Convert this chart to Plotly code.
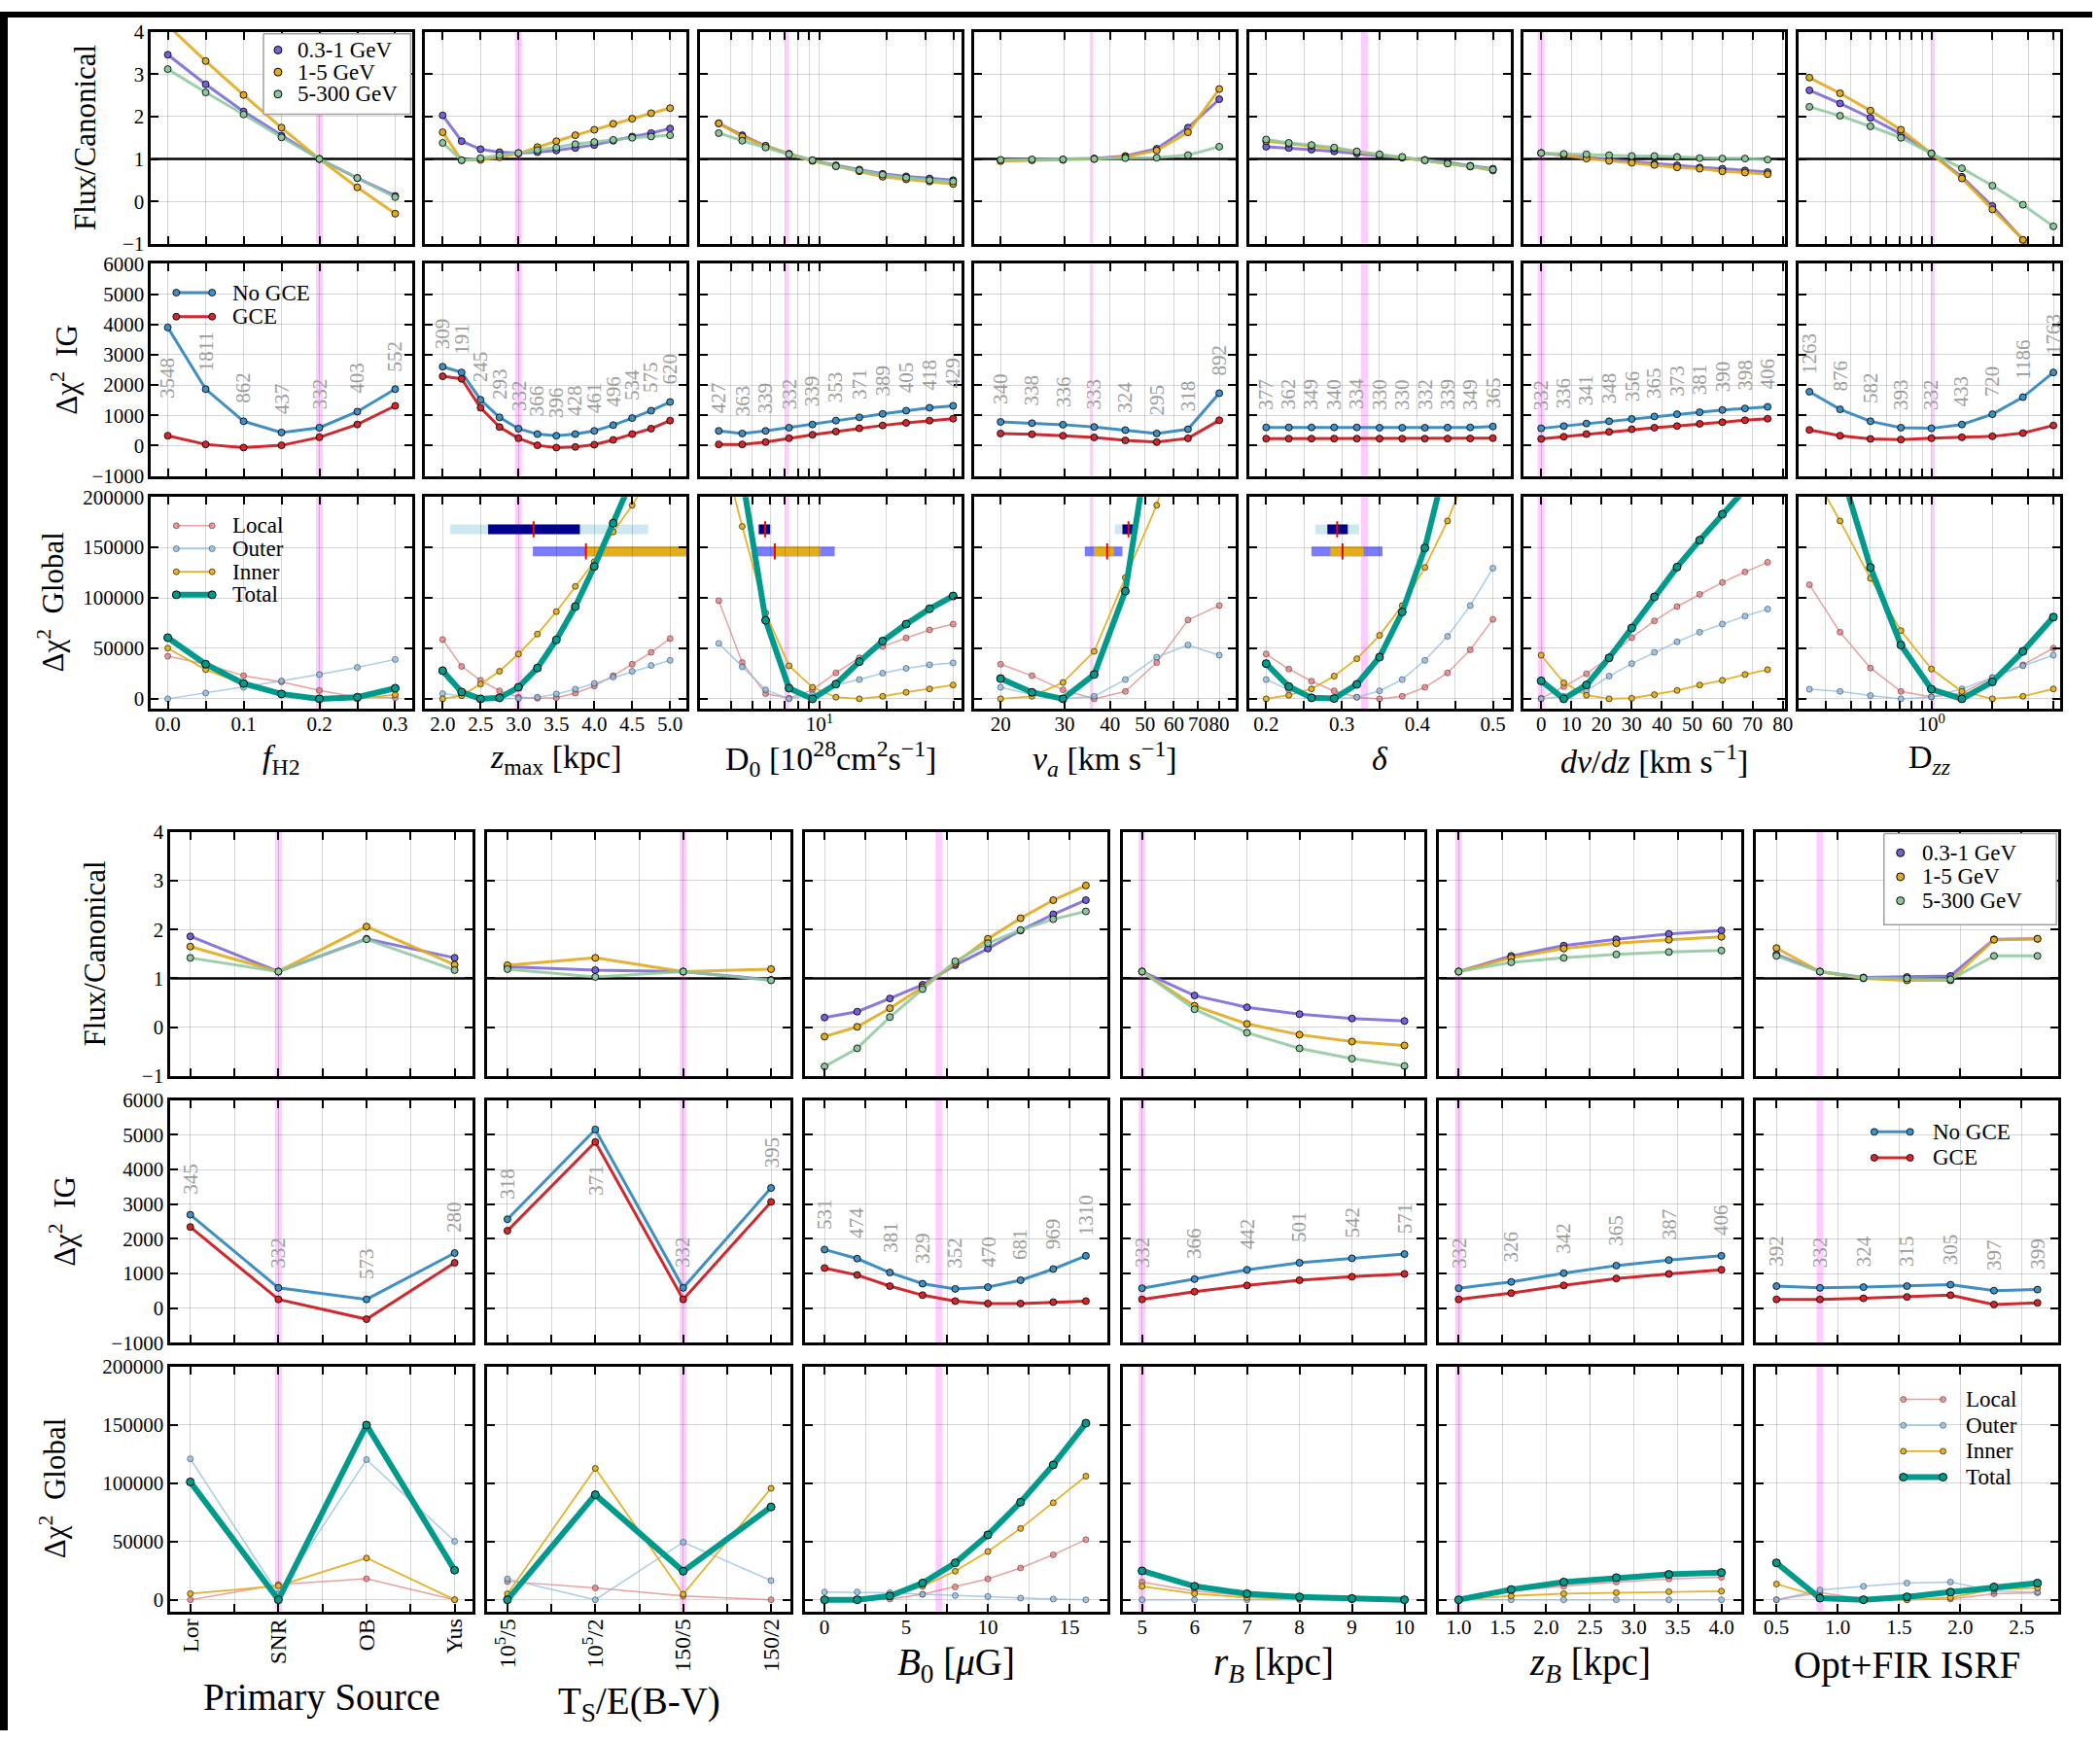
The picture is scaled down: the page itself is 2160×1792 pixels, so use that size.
import math
import plotly.graph_objects as go

W, H = 2160, 1792
FONT = "Liberation Serif"

# ----------------------------------------------------------------- DATA
# ---- top block ----
fh2_x = [0.0, 0.05, 0.1, 0.15, 0.2, 0.25, 0.3]
fh2_lo = [3.46, 2.76, 2.12, 1.55, 1.0, 0.55, 0.13]
fh2_mid = [4.15, 3.31, 2.51, 1.74, 1.0, 0.33, -0.29]
fh2_hi = [3.12, 2.57, 2.05, 1.51, 1.0, 0.55, 0.10]
fh2_nogce = [3900, 1864, 803, 432, 591, 1121, 1864]
fh2_gce = [326, 40, -66, 8, 273, 697, 1312]
fh2_lab = ["3548", "1811", "862", "437", "332", "403", "552"]
fh2_local = [42200, 34300, 22900, 16800, 8300, 1600, 1000]
fh2_outer = [0, 5700, 11400, 17800, 24100, 31100, 39000]
fh2_inner = [50200, 28900, 14600, 4800, 300, 0, 4100]
fh2_total = [60600, 34300, 15200, 4800, 0, 1600, 10500]

zmax_x = [2.0, 2.25, 2.5, 2.75, 3.0, 3.25, 3.5, 3.75, 4.0, 4.25, 4.5, 4.75, 5.0]
zmax_lo = [2.03, 1.42, 1.23, 1.16, 1.14, 1.16, 1.20, 1.26, 1.33, 1.43, 1.53, 1.61, 1.72]
zmax_mid = [1.63, 0.97, 0.98, 1.04, 1.13, 1.28, 1.42, 1.56, 1.69, 1.83, 1.95, 2.08, 2.20]
zmax_hi = [1.38, 0.97, 1.02, 1.09, 1.14, 1.21, 1.27, 1.35, 1.40, 1.45, 1.50, 1.53, 1.56]
zmax_nogce = [2606, 2415, 1514, 931, 559, 379, 326, 379, 485, 676, 909, 1153, 1440]
zmax_gce = [2288, 2203, 1249, 612, 241, 8, -66, -45, 29, 188, 379, 559, 825]
zmax_lab = ["309", "191", "245", "293", "332", "366", "396", "428", "461", "496", "534", "575", "620"]
zmax_local = [58700, 32100, 18400, 7900, 1600, 600, 1000, 5700, 12700, 22900, 34300, 46000, 59700]
zmax_outer = [5100, 3200, 600, 0, 300, 1600, 4800, 9500, 15200, 21600, 27300, 33000, 38100]
zmax_inner = [0, 3200, 14600, 27300, 44400, 64100, 86400, 111400, 135900, 165400, 191800, 222000, 252000]
zmax_total = [27900, 6700, 0, 1000, 11400, 30500, 58400, 91400, 131100, 174000, 215000, 260000, 305000]
zmax_bar1 = [2.10, 4.71, 2.60, 3.81, 3.20]   # wide lo, wide hi, core lo, core hi, best
zmax_bar2 = [3.19, 5.60, 3.89, 5.60, 3.89]

d0_x = [3.53, 4.50, 5.73, 7.3, 9.30, 11.85, 15.1, 19.2, 24.5, 31.2, 39.8]
d0_lo = [1.84, 1.56, 1.31, 1.12, 0.97, 0.85, 0.75, 0.65, 0.59, 0.54, 0.50]
d0_mid = [1.84, 1.53, 1.31, 1.12, 0.955, 0.83, 0.71, 0.58, 0.52, 0.47, 0.41]
d0_hi = [1.61, 1.43, 1.27, 1.11, 0.97, 0.83, 0.73, 0.63, 0.56, 0.50, 0.47]
d0_nogce = [485, 400, 485, 591, 697, 825, 931, 1047, 1153, 1249, 1312]
d0_gce = [40, 40, 114, 241, 358, 464, 570, 666, 750, 825, 888]
d0_lab = ["427", "363", "339", "332", "339", "353", "371", "389", "405", "418", "429"]
d0_local = [97200, 35900, 5100, 600, 8900, 25700, 40600, 51800, 60300, 68300, 74000]
d0_outer = [54900, 31800, 8900, 0, 4100, 13700, 19100, 25400, 30200, 33700, 35600]
d0_inner = [260000, 170800, 85100, 32700, 11400, 1600, 0, 2500, 6400, 9800, 13700]
d0_total = [420000, 220000, 77800, 10500, 0, 14600, 36800, 57200, 74000, 89200, 101900]
d0_bar1 = [5.27, 6.11, 5.34, 6.0, 5.70]
d0_bar2 = [5.05, 11.7, 6.3, 10.1, 6.3]

va_x = [20, 24.4, 29.7, 36.2, 44.1, 53.8, 65.6, 80]
va_lo = [0.97, 0.98, 0.985, 1.01, 1.07, 1.24, 1.74, 2.41]
va_mid = [0.95, 0.97, 0.98, 1.0, 1.05, 1.20, 1.63, 2.65]
va_hi = [0.98, 0.99, 0.99, 1.0, 1.02, 1.03, 1.09, 1.29]
va_nogce = [780, 740, 690, 615, 510, 400, 540, 1730]
va_gce = [400, 375, 325, 270, 170, 115, 240, 835]
va_lab = ["340", "338", "336", "333", "324", "295", "318", "892"]
va_local = [34300, 22900, 8900, 0, 7300, 35900, 78100, 92400]
va_outer = [11400, 4100, 0, 2500, 19100, 41300, 53300, 43200]
va_inner = [0, 2500, 16200, 47000, 120000, 191800, 300000, 420000]
va_total = [20000, 6400, 0, 24100, 106700, 260000, 480000, 700000]
va_bar1 = [41.3, 47.2, 43.3, 46.7, 45.0]
va_bar2 = [34.1, 43.3, 36.1, 41.0, 39.3]

dl_x = [0.2, 0.23, 0.26, 0.29, 0.32, 0.35, 0.38, 0.41, 0.44, 0.47, 0.5]
dl_lo = [1.29, 1.26, 1.22, 1.18, 1.13, 1.08, 1.03, 0.98, 0.92, 0.84, 0.77]
dl_mid = [1.42, 1.36, 1.31, 1.25, 1.17, 1.10, 1.04, 0.97, 0.90, 0.82, 0.73]
dl_hi = [1.46, 1.38, 1.33, 1.27, 1.18, 1.11, 1.05, 0.97, 0.89, 0.83, 0.75]
dl_nogce = [600, 600, 600, 600, 600, 590, 590, 590, 595, 600, 630]
dl_gce = [230, 230, 230, 230, 230, 230, 230, 230, 232, 235, 245]
dl_lab = ["377", "362", "349", "340", "334", "330", "330", "332", "339", "349", "365"]
dl_local = [44400, 29500, 17500, 7900, 1600, 0, 2500, 11400, 25700, 48600, 78700]
dl_outer = [19100, 8900, 1600, 0, 1600, 7900, 19100, 38100, 61900, 92400, 129500]
dl_inner = [0, 3500, 9800, 22500, 39700, 62900, 92400, 130200, 176200, 230000, 290000]
dl_total = [34900, 12100, 1000, 300, 14300, 41300, 86000, 149500, 240000, 330000, 420000]
dl_bar1 = [0.265, 0.323, 0.281, 0.308, 0.294]
dl_bar2 = [0.260, 0.354, 0.285, 0.329, 0.301]

dv_x = [0, 7.5, 15, 22.5, 30, 37.5, 45, 52.5, 60, 67.5, 75]
dv_lo = [1.14, 1.09, 1.03, 0.985, 0.94, 0.89, 0.85, 0.80, 0.77, 0.73, 0.69]
dv_mid = [1.14, 1.09, 1.01, 0.955, 0.91, 0.86, 0.80, 0.77, 0.71, 0.68, 0.64]
dv_hi = [1.14, 1.12, 1.11, 1.09, 1.07, 1.07, 1.05, 1.02, 1.01, 1.01, 0.985]
dv_nogce = [570, 644, 729, 803, 878, 962, 1036, 1100, 1174, 1227, 1280]
dv_gce = [220, 294, 379, 453, 538, 591, 644, 718, 771, 835, 888]
dv_lab = ["332", "336", "341", "348", "356", "365", "373", "381", "390", "398", "406"]
dv_local = [500, 12100, 24800, 41300, 60600, 77200, 91400, 103500, 115300, 125700, 135300]
dv_outer = [0, 2500, 7900, 22500, 34900, 46000, 56500, 66000, 74000, 81900, 88900]
dv_inner = [43200, 15900, 3500, 0, 600, 4100, 8300, 13700, 18400, 24100, 28900]
dv_total = [17800, 0, 13700, 40600, 70200, 101000, 130500, 157200, 182900, 208000, 233000]

dzz_x = [0.25, 0.354, 0.5, 0.707, 1.0, 1.414, 2.0, 2.83, 4.0]
dzz_lo = [2.62, 2.31, 1.97, 1.59, 1.13, 0.58, -0.11, -0.91, -1.7]
dzz_mid = [2.92, 2.55, 2.14, 1.69, 1.13, 0.54, -0.19, -0.91, -1.6]
dzz_hi = [2.23, 2.02, 1.77, 1.50, 1.13, 0.78, 0.37, -0.08, -0.59]
dzz_nogce = [1779, 1196, 803, 591, 570, 697, 1036, 1599, 2415]
dzz_gce = [517, 326, 220, 199, 241, 273, 305, 411, 666]
dzz_lab = ["1263", "876", "582", "393", "332", "433", "720", "1186", "1763"]
dzz_local = [113000, 66000, 30500, 7300, 1900, 5700, 21000, 33700, 50200]
dzz_outer = [9500, 7300, 3200, 0, 1900, 9800, 21000, 32700, 43200]
dzz_inner = [230000, 176200, 119400, 67600, 29500, 7300, 0, 2500, 9800]
dzz_total = [330000, 230000, 130200, 53300, 9500, 0, 16800, 47000, 81000]

# ---- bottom block ----
ps_x = [0, 1, 2, 3]
ps_cats = ["Lor", "SNR", "OB", "Yus"]
ps_lo = [1.86, 1.14, 1.81, 1.42]
ps_mid = [1.65, 1.14, 2.06, 1.28]
ps_hi = [1.42, 1.14, 1.80, 1.17]
ps_nogce = [2696, 587, 255, 1591]
ps_gce = [2344, 255, -317, 1310]
ps_lab = ["345", "332", "573", "280"]
ps_local = [0, 13000, 18000, 0]
ps_outer = [121000, 5000, 120300, 50200]
ps_inner = [5200, 12000, 35800, 0]
ps_total = [101200, 0, 150000, 25400]

ts_x = [0, 1, 2, 3]
ts_cats = ["10<sup>5</sup>/5", "10<sup>5</sup>/2", "150/5", "150/2"]
ts_lo = [1.24, 1.17, 1.14, 0.97]
ts_mid = [1.27, 1.42, 1.14, 1.19]
ts_hi = [1.19, 1.03, 1.14, 0.96]
ts_nogce = [2565, 5156, 587, 3469]
ts_gce = [2234, 4795, 255, 3067]
ts_lab = ["318", "371", "332", "395"]
ts_local = [15700, 10200, 3300, 0]
ts_outer = [17900, 0, 49400, 16500]
ts_inner = [5000, 112800, 4700, 95700]
ts_total = [0, 90200, 24500, 79700]

b0_x = [0, 2, 4, 6, 8, 10, 12, 14, 16]
b0_lo = [0.20, 0.32, 0.59, 0.87, 1.27, 1.61, 1.98, 2.31, 2.60]
b0_mid = [-0.19, 0.01, 0.39, 0.82, 1.31, 1.81, 2.23, 2.60, 2.90]
b0_hi = [-0.80, -0.43, 0.21, 0.78, 1.35, 1.72, 1.99, 2.21, 2.37]
b0_nogce = [1692, 1430, 1029, 707, 557, 607, 808, 1129, 1511]
b0_gce = [1159, 958, 637, 376, 205, 135, 135, 175, 205]
b0_lab = ["531", "474", "381", "329", "352", "470", "681", "969", "1310"]
b0_local = [0, 0, 600, 4700, 11000, 17900, 27300, 38600, 51600]
b0_outer = [6600, 6600, 6100, 4700, 3600, 2800, 1400, 600, 0]
b0_inner = [0, 0, 2800, 11600, 24500, 41400, 61200, 83300, 106100]
b0_total = [0, 0, 3300, 14300, 31700, 55700, 83800, 115800, 151600]

rb_x = [5, 6, 7, 8, 9, 10]
rb_lo = [1.14, 0.65, 0.41, 0.27, 0.18, 0.13]
rb_mid = [1.14, 0.44, 0.07, -0.15, -0.29, -0.37]
rb_hi = [1.14, 0.37, -0.11, -0.43, -0.64, -0.79]
rb_nogce = [577, 838, 1109, 1310, 1440, 1561]
rb_gce = [255, 476, 657, 808, 908, 989]
rb_lab = ["332", "366", "442", "501", "542", "571"]
rb_local = [15200, 7400, 3300, 1400, 600, 0]
rb_outer = [0, 0, 0, 0, 0, 0]
rb_inner = [11600, 5200, 1900, 600, 0, 0]
rb_total = [24800, 11600, 5200, 2500, 1100, 0]

zb_x = [1.0, 1.6, 2.2, 2.8, 3.4, 4.0]
zb_lo = [1.14, 1.46, 1.67, 1.80, 1.91, 1.98]
zb_mid = [1.14, 1.42, 1.61, 1.72, 1.79, 1.85]
zb_hi = [1.14, 1.33, 1.42, 1.49, 1.54, 1.57]
zb_nogce = [577, 758, 1009, 1230, 1390, 1511]
zb_gce = [255, 436, 657, 858, 989, 1109]
zb_lab = ["332", "326", "342", "365", "387", "406"]
zb_local = [0, 7400, 11600, 15200, 17900, 19300]
zb_outer = [0, 0, 0, 0, 0, 0]
zb_inner = [0, 3300, 5200, 6100, 6900, 7400]
zb_total = [0, 8800, 15200, 19000, 21800, 23400]

is_x = [0.5, 0.855, 1.21, 1.565, 1.92, 2.275, 2.63]
is_lo = [1.49, 1.14, 1.02, 1.03, 1.05, 1.80, 1.81]
is_mid = [1.62, 1.14, 1.0, 0.96, 0.96, 1.79, 1.81]
is_hi = [1.46, 1.14, 1.01, 1.0, 0.98, 1.46, 1.46]
is_nogce = [637, 587, 607, 637, 677, 507, 537]
is_gce = [255, 255, 285, 326, 376, 105, 155]
is_lab = ["392", "332", "324", "315", "305", "397", "399"]
is_local = [0, 6100, 600, 0, 600, 5200, 6100]
is_outer = [0, 8300, 11600, 14300, 15200, 7400, 6600]
is_inner = [13500, 2800, 0, 0, 1900, 8800, 10200]
is_total = [31700, 1400, 0, 2500, 6600, 11000, 14300]

flux_names = ["0.3-1 GeV", "1-5 GeV", "5-300 GeV"]
ig_names = ["No GCE", "GCE"]
gl_names = ["Local", "Outer", "Inner", "Total"]

# ----------------------------------------------------------------- STYLE
C_LO, C_MID, C_HI = "#7462d6", "#e2aa1e", "#8cc79c"
L_LO, L_MID, L_HI = "rgba(116,98,214,0.85)", "rgba(226,170,30,0.9)", "rgba(140,199,156,0.85)"
C_NOGCE, C_GCE = "#3f8fc5", "#d1282d"
C_LOCAL, C_OUTER, C_INNER, C_TOTAL = "rgba(222,120,120,0.7)", "rgba(140,185,222,0.75)", "#e4b22c", "#009a8c"
E_LOCAL, E_OUTER, E_INNER = "rgba(90,40,40,0.6)", "rgba(40,60,90,0.6)", "rgba(60,45,0,0.8)"
BAND = "rgba(255,0,255,0.2)"
GRID = "rgba(0,0,0,0.16)"

TOP_COLS = [(156, 426), (439, 709), (723, 993), (1006, 1276), (1290, 1560), (1573, 1843), (1857, 2127)]
TOP_ROWS = [(21, 242), (263, 484), (506, 727)]
BOT_COLS = [(176, 488), (503, 816), (831, 1143), (1159, 1470), (1486, 1798), (1813, 2125)]
BOT_ROWS = [(855, 1110), (1135, 1388), (1413, 1668)]

AX = dict(showline=True, linecolor="black", linewidth=3, mirror="allticks", ticks="inside",
          ticklen=8, tickwidth=1.5, tickcolor="black", showgrid=True,
          gridcolor=GRID, gridwidth=1.2, zeroline=False, tickangle=0,
          tickfont=dict(family=FONT, size=21, color="black"))

Y_FLUX = dict(range=[-1, 4], tickvals=[-1, 0, 1, 2, 3, 4], ticktext=["\u22121", "0", "1", "2", "3", "4"])
Y_IG = dict(range=[-1000, 6000], tickvals=[-1000, 0, 1000, 2000, 3000, 4000, 5000, 6000],
            ticktext=["\u22121000", "0", "1000", "2000", "3000", "4000", "5000", "6000"])
Y_GL = dict(range=[-10000, 200000], tickvals=[0, 50000, 100000, 150000, 200000],
            ticktext=["0", "50000", "100000", "150000", "200000"])


def ticks(labelled_vals, labels, minor_vals=()):
    d = dict(tickvals=labelled_vals, ticktext=labels)
    if minor_vals:
        d["minor"] = dict(tickvals=list(minor_vals), ticks="inside", ticklen=8, tickwidth=1.5,
                          tickcolor="black", showgrid=True, gridcolor=GRID, gridwidth=1.2)
    return d


CATFONT = dict(family=FONT, size=24, color="black")

TOP = [
    dict(x=fh2_x, fl=(fh2_lo, fh2_mid, fh2_hi), ig=(fh2_nogce, fh2_gce), lab=fh2_lab,
         gl=(fh2_local, fh2_outer, fh2_inner, fh2_total), canon=0.2, log=False,
         xax=dict(range=[-0.022, 0.323], **ticks([0, 0.1, 0.2, 0.3], ["0.0", "0.1", "0.2", "0.3"],
                                                  [0.05, 0.15, 0.25])),
         title="<i>f</i><sub>H2</sub>", bars=None),
    dict(x=zmax_x, fl=(zmax_lo, zmax_mid, zmax_hi), ig=(zmax_nogce, zmax_gce), lab=zmax_lab,
         gl=(zmax_local, zmax_outer, zmax_inner, zmax_total), canon=3.0, log=False,
         xax=dict(range=[1.77, 5.22], **ticks([2.0, 2.5, 3.0, 3.5, 4.0, 4.5, 5.0],
                                              ["2.0", "2.5", "3.0", "3.5", "4.0", "4.5", "5.0"])),
         title="<i>z</i><sub>max</sub> [kpc]", bars=(zmax_bar1, zmax_bar2)),
    dict(x=d0_x, fl=(d0_lo, d0_mid, d0_hi), ig=(d0_nogce, d0_gce), lab=d0_lab,
         gl=(d0_local, d0_outer, d0_inner, d0_total), canon=7.05, log=True,
         xax=dict(type="log", range=[0.465, 1.639],
                  **ticks([10], ["10<sup>1</sup>"], [4, 5, 6, 7, 8, 9, 20, 30, 40])),
         title="D<sub>0</sub> [10<sup>28</sup>cm<sup>2</sup>s<sup>\u22121</sup>]", bars=(d0_bar1, d0_bar2)),
    dict(x=va_x, fl=(va_lo, va_mid, va_hi), ig=(va_nogce, va_gce), lab=va_lab,
         gl=(va_local, va_outer, va_inner, va_total), canon=35.2, log=True,
         xax=dict(type="log", range=[1.229, 1.949],
                  **ticks([20, 30, 40, 50, 60, 70, 80], ["20", "30", "40", "50", "60", "70", "80"])),
         title="<i>v<sub>a</sub></i> [km s<sup>\u22121</sup>]", bars=(va_bar1, va_bar2)),
    dict(x=dl_x, fl=(dl_lo, dl_mid, dl_hi), ig=(dl_nogce, dl_gce), lab=dl_lab,
         gl=(dl_local, dl_outer, dl_inner, dl_total), canon=0.33, log=False,
         xax=dict(range=[0.178, 0.524], **ticks([0.2, 0.3, 0.4, 0.5], ["0.2", "0.3", "0.4", "0.5"],
                                                [0.25, 0.35, 0.45])),
         title="<i>\u03b4</i>", bars=(dl_bar1, dl_bar2)),
    dict(x=dv_x, fl=(dv_lo, dv_mid, dv_hi), ig=(dv_nogce, dv_gce), lab=dv_lab,
         gl=(dv_local, dv_outer, dv_inner, dv_total), canon=0, log=False,
         xax=dict(range=[-5.8, 80.8], **ticks([0, 10, 20, 30, 40, 50, 60, 70, 80],
                                              ["0", "10", "20", "30", "40", "50", "60", "70", "80"])),
         title="<i>dv</i>/<i>dz</i> [km s<sup>\u22121</sup>]", bars=None),
    dict(x=dzz_x, fl=(dzz_lo, dzz_mid, dzz_hi), ig=(dzz_nogce, dzz_gce), lab=dzz_lab,
         gl=(dzz_local, dzz_outer, dzz_inner, dzz_total), canon=1.0, log=True,
         xax=dict(type="log", range=[-0.655, 0.636],
                  **ticks([1], ["10<sup>0</sup>"], [0.3, 0.4, 0.5, 0.6, 0.7, 0.8, 0.9, 2, 3, 4])),
         title="D<sub><i>zz</i></sub>", bars=None),
]

BOT = [
    dict(x=ps_x, fl=(ps_lo, ps_mid, ps_hi), ig=(ps_nogce, ps_gce), lab=ps_lab,
         gl=(ps_local, ps_outer, ps_inner, ps_total), canon=1, log=False,
         xax=dict(range=[-0.225, 3.205], tickangle=-90, tickfont=CATFONT,
                  **ticks(ps_x, ps_cats, [0.5, 1.5, 2.5])),
         title="Primary Source", ty=1758),
    dict(x=ts_x, fl=(ts_lo, ts_mid, ts_hi), ig=(ts_nogce, ts_gce), lab=ts_lab,
         gl=(ts_local, ts_outer, ts_inner, ts_total), canon=2, log=False,
         xax=dict(range=[-0.23, 3.22], tickangle=-90, tickfont=CATFONT,
                  **ticks(ts_x, ts_cats, [0.5, 1.5, 2.5])),
         title="T<sub>S</sub>/E(B-V)", ty=1764),
    dict(x=b0_x, fl=(b0_lo, b0_mid, b0_hi), ig=(b0_nogce, b0_gce), lab=b0_lab,
         gl=(b0_local, b0_outer, b0_inner, b0_total), canon=7.0, log=False,
         xax=dict(range=[-1.2, 17.3], **ticks([0, 5, 10, 15], ["0", "5", "10", "15"], [2.5, 7.5, 12.5])),
         title="<i>B</i><sub>0</sub> [<i>\u03bc</i>G]", ty=1724),
    dict(x=rb_x, fl=(rb_lo, rb_mid, rb_hi), ig=(rb_nogce, rb_gce), lab=rb_lab,
         gl=(rb_local, rb_outer, rb_inner, rb_total), canon=5, log=False,
         xax=dict(range=[4.63, 10.37], **ticks([5, 6, 7, 8, 9, 10], ["5", "6", "7", "8", "9", "10"])),
         title="<i>r<sub>B</sub></i> [kpc]", ty=1724),
    dict(x=zb_x, fl=(zb_lo, zb_mid, zb_hi), ig=(zb_nogce, zb_gce), lab=zb_lab,
         gl=(zb_local, zb_outer, zb_inner, zb_total), canon=1.0, log=False,
         xax=dict(range=[0.78, 4.23], **ticks([1.0, 1.5, 2.0, 2.5, 3.0, 3.5, 4.0],
                                              ["1.0", "1.5", "2.0", "2.5", "3.0", "3.5", "4.0"])),
         title="<i>z<sub>B</sub></i> [kpc]", ty=1724),
    dict(x=is_x, fl=(is_lo, is_mid, is_hi), ig=(is_nogce, is_gce), lab=is_lab,
         gl=(is_local, is_outer, is_inner, is_total), canon=0.855, log=False,
         xax=dict(range=[0.334, 2.80], **ticks([0.5, 1.0, 1.5, 2.0, 2.5], ["0.5", "1.0", "1.5", "2.0", "2.5"])),
         title="Opt+FIR ISRF", ty=1724),
]

# ----------------------------------------------------------------- FIGURE
fig = go.Figure()
shapes = []
annots = []
counter = [0]


def new_axes(col, row, xcfg, ycfg):
    counter[0] += 1
    k = counter[0]
    s = "" if k == 1 else str(k)
    xd = dict(AX)
    xd.update(xcfg)
    yd = dict(AX)
    yd.update(ycfg)
    xd.update(domain=[col[0] / W, col[1] / W], anchor="y" + s)
    yd.update(domain=[1 - row[1] / H, 1 - row[0] / H], anchor="x" + s)
    fig.update_layout(**{"xaxis" + s: xd, "yaxis" + s: yd})
    return "x" + s, "y" + s


def line_trace(xa, ya, x, y, color, width, msize, medge="rgba(0,0,0,0.85)", mcolor=None):
    fig.add_trace(go.Scatter(x=x, y=y, xaxis=xa, yaxis=ya, mode="lines+markers",
                             line=dict(color=color, width=width),
                             marker=dict(size=msize, color=mcolor or color, line=dict(color=medge, width=1)),
                             showlegend=False, hoverinfo="skip"))


def build(panel, col, rows, first_col):
    for r, row in enumerate(rows):
        xcfg = dict(panel["xax"])
        xcfg["showticklabels"] = (r == 2)
        xcfg["ticklabelstandoff"] = -5
        ycfg = dict([Y_FLUX, Y_IG, Y_GL][r])
        ycfg["showticklabels"] = first_col
        xa, ya = new_axes(col, row, xcfg, ycfg)
        # canonical-value band
        shapes.append(dict(type="rect", xref=xa, yref=ya, xsizemode="pixel", xanchor=panel["canon"],
                           x0=-3.5, x1=3.5, y0=ycfg["range"][0], y1=ycfg["range"][1],
                           fillcolor=BAND, line=dict(width=0), layer="below"))
        x = panel["x"]
        if r == 0:
            shapes.append(dict(type="line", xref=xa + " domain", yref=ya, x0=0, x1=1, y0=1, y1=1,
                               line=dict(color="black", width=2.5), layer="below"))
            lo, mid, hi = panel["fl"]
            line_trace(xa, ya, x, lo, L_LO, 3, 7, mcolor=C_LO)
            line_trace(xa, ya, x, mid, L_MID, 3, 7, mcolor=C_MID)
            line_trace(xa, ya, x, hi, L_HI, 3, 7, mcolor=C_HI)
        elif r == 1:
            nog, gce = panel["ig"]
            line_trace(xa, ya, x, nog, C_NOGCE, 3, 7)
            line_trace(xa, ya, x, gce, C_GCE, 3, 7)
            for xi, v, t in zip(x, nog, panel["lab"]):
                xv = math.log10(xi) if panel["log"] else xi
                if v > 3500:
                    yv, yanc = v - 950, "top"
                else:
                    yv, yanc = v + 520, "bottom"
                annots.append(dict(x=xv, y=yv, xref=xa, yref=ya, text=t, textangle=-90, showarrow=False,
                                   xanchor="center", yanchor=yanc,
                                   font=dict(family=FONT, size=21, color="#9c9c9c")))
        else:
            loc, out, inn, tot = panel["gl"]
            bars = panel.get("bars")
            if bars:
                b1, b2 = bars
                for (cy, bb, c_wide, c_core) in ((168000, b1, "rgba(173,216,230,0.6)", "#00008b"),
                                                 (146000, b2, "rgba(100,100,255,0.85)", "#e3ae1a")):
                    shapes.append(dict(type="rect", xref=xa, yref=ya, x0=bb[0], x1=bb[1], y0=cy - 4800,
                                       y1=cy + 4800, fillcolor=c_wide, line=dict(width=0), layer="below"))
                    shapes.append(dict(type="rect", xref=xa, yref=ya, x0=bb[2], x1=bb[3], y0=cy - 4800,
                                       y1=cy + 4800, fillcolor=c_core, line=dict(width=0), layer="below"))
                    shapes.append(dict(type="line", xref=xa, yref=ya, x0=bb[4], x1=bb[4], y0=cy - 8000,
                                       y1=cy + 8000, line=dict(color="red", width=2), layer="below"))
            line_trace(xa, ya, x, loc, C_LOCAL, 1.5, 6, E_LOCAL)
            line_trace(xa, ya, x, out, C_OUTER, 1.5, 6, E_OUTER)
            line_trace(xa, ya, x, inn, C_INNER, 1.8, 6, E_INNER)
            line_trace(xa, ya, x, tot, C_TOTAL, 6, 8, "black")


for i, p in enumerate(TOP):
    build(p, TOP_COLS[i], TOP_ROWS, i == 0)
    cx = (TOP_COLS[i][0] + TOP_COLS[i][1]) / 2
    annots.append(dict(x=cx / W, y=1 - 779 / H, xref="paper", yref="paper", text=p["title"], showarrow=False,
                       xanchor="center", yanchor="middle", font=dict(family=FONT, size=34, color="black")))

for i, p in enumerate(BOT):
    build(p, BOT_COLS[i], BOT_ROWS, i == 0)
    cx = (BOT_COLS[i][0] + BOT_COLS[i][1]) / 2
    annots.append(dict(x=cx / W, y=1 - p["ty"] / H, xref="paper", yref="paper", text=p["title"], showarrow=False,
                       xanchor="center", yanchor="middle", font=dict(family=FONT, size=39, color="black")))

# y titles
for (xc, yc, txt) in ((88, 131, "Flux/Canonical"), (66, 373, "\u0394\u03c7<sup>2</sup>  IG"),
                      (53, 616, "\u0394\u03c7<sup>2</sup>  Global"),
                      (98, 982, "Flux/Canonical"), (64, 1261, "\u0394\u03c7<sup>2</sup>  IG"),
                      (55, 1540, "\u0394\u03c7<sup>2</sup>  Global")):
    annots.append(dict(x=xc / W, y=1 - yc / H, xref="paper", yref="paper", text=txt, textangle=-90,
                       showarrow=False, xanchor="center", yanchor="middle",
                       font=dict(family=FONT, size=31, color="black")))

# ----------------------------------------------------------------- LEGENDS (drawn on a pixel overlay)
counter[0] += 1
OV = str(counter[0])
fig.update_layout(**{
    "xaxis" + OV: dict(domain=[0, 1], range=[0, W], visible=False, fixedrange=True, anchor="y" + OV),
    "yaxis" + OV: dict(domain=[0, 1], range=[H, 0], visible=False, fixedrange=True, anchor="x" + OV),
})
OXA, OYA = "x" + OV, "y" + OV
LEGF = dict(family=FONT, size=23, color="black")


def ov_trace(x, y, mode, color, width=0, msize=7, medge="black", fill=None, fillcolor=None, mcolor=None):
    fig.add_trace(go.Scatter(x=x, y=y, xaxis=OXA, yaxis=OYA, mode=mode, fill=fill, fillcolor=fillcolor,
                             line=dict(color=color, width=width),
                             marker=dict(size=msize, color=mcolor or color, line=dict(color=medge, width=1)),
                             showlegend=False, hoverinfo="skip", cliponaxis=False))


def leg_text(x, y, t):
    annots.append(dict(x=x / W, y=1 - y / H, xref="paper", yref="paper", text=t, showarrow=False,
                       xanchor="left", yanchor="middle", font=LEGF))


def flux_legend(box, mx, tx, ys):
    x0, y0, x1, y1 = box
    ov_trace([x0, x1, x1, x0, x0], [y0, y0, y1, y1, y0], "lines", "#a0a0a0", 1.5,
             fill="toself", fillcolor="white")
    for y, c, n in zip(ys, (C_LO, C_MID, C_HI), flux_names):
        ov_trace([mx], [y], "markers", c, msize=8)
        leg_text(tx, y, n)


def line_legend(x0, x1, tx, ys, styles, names):
    for y, st, n in zip(ys, styles, names):
        col, wdt, ms, edge = st
        ov_trace([x0, x1], [y, y], "lines+markers", col, wdt, ms, edge)
        leg_text(tx, y, n)


IG_STY = [(C_NOGCE, 3, 7, "rgba(0,0,0,0.85)"), (C_GCE, 3, 7, "rgba(0,0,0,0.85)")]
GL_STY = [(C_LOCAL, 1.5, 6, E_LOCAL), (C_OUTER, 1.5, 6, E_OUTER), (C_INNER, 1.8, 6, E_INNER),
          (C_TOTAL, 6, 8, "black")]

flux_legend((272, 23, 424, 107), 287, 305, [40, 63, 86])
flux_legend((1945, 857, 2123, 952), 1962, 1982, [877, 902, 927])
line_legend(182, 219, 238, [293, 318], IG_STY, ig_names)
line_legend(1935, 1972, 1993, [1168, 1195], IG_STY, ig_names)
line_legend(182, 219, 238, [536, 560, 584, 608], GL_STY, gl_names)
line_legend(1965, 2006, 2028, [1447, 1474, 1501, 1528], GL_STY, gl_names)

# frame strips (black edges of the original screenshot)
shapes.append(dict(type="rect", xref="paper", yref="paper", x0=0, x1=8 / W, y0=0, y1=1,
                   fillcolor="black", line=dict(width=0), layer="above"))
shapes.append(dict(type="rect", xref="paper", yref="paper", x0=0, x1=1, y0=1 - 6 / H, y1=1,
                   fillcolor="black", line=dict(width=0), layer="above"))

fig.update_layout(width=W, height=H, autosize=False, margin=dict(l=0, r=0, t=0, b=0, pad=0),
                  paper_bgcolor="white", plot_bgcolor="rgba(0,0,0,0)", shapes=shapes, annotations=annots,
                  font=dict(family=FONT, size=20, color="black"), hovermode=False, showlegend=False)

fig.write_html("out.html", config={"displayModeBar": False},
               post_script="document.body.style.margin='0';")
